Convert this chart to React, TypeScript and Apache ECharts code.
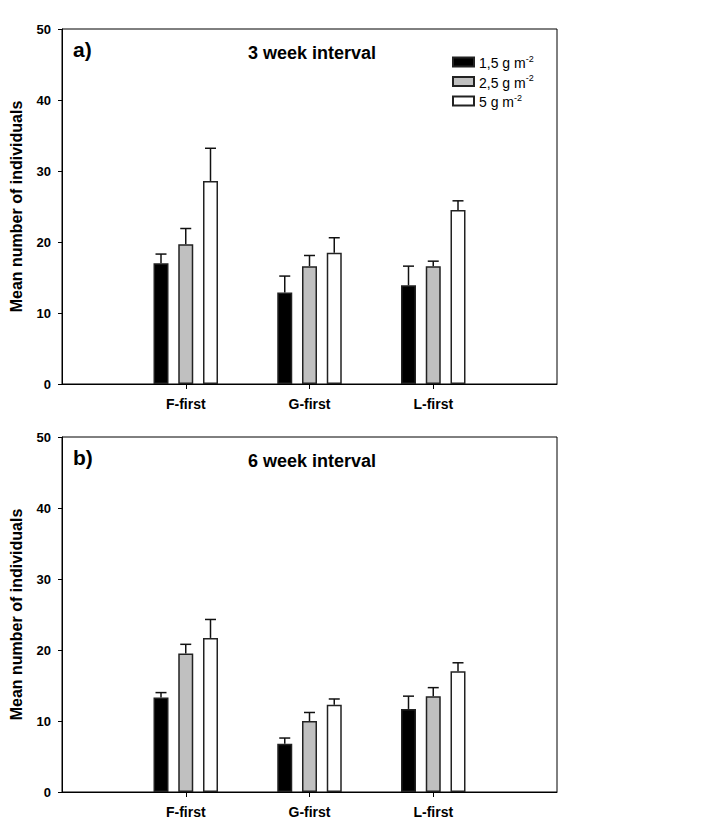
import React, { useEffect, useRef } from "react";
import * as echarts from "echarts";

const categories = ["", "F-first", "G-first", "L-first", ""];
const seriesNames = ["1,5 g m-2", "2,5 g m-2", "5 g m-2"];
const seriesColors = ["#000000", "#c0c0c0", "#ffffff"];

// Panel a) 3 week interval
const aMeans1 = [17.0, 12.9, 13.9];
const aMeans2 = [19.7, 16.6, 16.6];
const aMeans3 = [28.6, 18.5, 24.5];
const aErr1 = [1.3, 2.3, 2.7];
const aErr2 = [2.2, 1.5, 0.7];
const aErr3 = [4.6, 2.1, 1.3];

// Panel b) 6 week interval
const bMeans1 = [13.3, 6.8, 11.7];
const bMeans2 = [19.5, 10.0, 13.5];
const bMeans3 = [21.7, 12.3, 17.0];
const bErr1 = [0.7, 0.8, 1.8];
const bErr2 = [1.3, 1.2, 1.2];
const bErr3 = [2.6, 0.8, 1.2];

const yTicks = [0, 10, 20, 30, 40, 50];
const panelLabels = ["a)", "b)"];
const panelTitles = ["3 week interval", "6 week interval"];
const yTitle = "Mean number of individuals";

const FONT = "Liberation Sans, Arial, sans-serif";
const BAR_W = 15;
const BAR_GAP = "65%";
const PITCH = BAR_W * 1.65;

export default function App() {
  const ref = useRef<HTMLDivElement>(null);
  useEffect(() => {
    if (!ref.current) return;
    const chart = echarts.init(ref.current, undefined, { renderer: "svg" });

    const panels = [
      { means: [aMeans1, aMeans2, aMeans3], errs: [aErr1, aErr2, aErr3] },
      { means: [bMeans1, bMeans2, bMeans3], errs: [bErr1, bErr2, bErr3] },
    ];
    const gridTops = [29, 437];
    const gridH = 355;

    const grids = gridTops.map((top) => ({
      left: 62,
      top,
      width: 495,
      height: gridH,
      containLabel: false,
      outerBoundsMode: "none",
      show: true,
      borderColor: "#000",
      borderWidth: 1,
      backgroundColor: "transparent",
    }));

    const xAxes = gridTops.map((_, gi) => ({
      type: "category" as const,
      gridIndex: gi,
      data: categories,
      boundaryGap: false,
      axisLine: { lineStyle: { color: "#000", width: 1 } },
      axisTick: {
        show: true,
        length: 5,
        interval: (idx: number) => idx >= 1 && idx <= 3,
        lineStyle: { color: "#000" },
      },
      axisLabel: {
        interval: 0,
        margin: 13,
        color: "#000",
        fontFamily: FONT,
        fontWeight: "bold",
        fontSize: 14,
      },
      splitLine: { show: false },
    }));

    const yAxes = gridTops.map((_, gi) => ({
      type: "value" as const,
      gridIndex: gi,
      min: yTicks[0],
      max: yTicks[yTicks.length - 1],
      interval: 10,
      axisLine: { show: true, lineStyle: { color: "#000", width: 1 } },
      axisTick: { show: true, length: 4, lineStyle: { color: "#000" } },
      axisLabel: {
        margin: 11,
        color: "#000",
        fontFamily: FONT,
        fontWeight: "bold",
        fontSize: 13,
      },
      splitLine: { show: false },
    }));

    const series: any[] = [];
    panels.forEach((p, gi) => {
      p.means.forEach((vals, si) => {
        series.push({
          type: "bar",
          name: seriesNames[si],
          xAxisIndex: gi,
          yAxisIndex: gi,
          barWidth: BAR_W,
          barGap: BAR_GAP,
          data: vals.map((v, i) => [i + 1, v]),
          itemStyle: {
            color: seriesColors[si],
            borderColor: "#222",
            borderWidth: 1.5,
          },
          z: 2,
        });
      });
      p.means.forEach((vals, si) => {
        const errs = p.errs[si];
        const offset = (si - 1) * PITCH;
        series.push({
          type: "custom",
          name: `err-${gi}-${si}`,
          xAxisIndex: gi,
          yAxisIndex: gi,
          z: 3,
          data: vals.map((v, i) => [i + 1, v, errs[i]]),
          renderItem: (params: any, api: any) => {
            const x = api.value(0);
            const v = api.value(1);
            const e = api.value(2);
            const base = api.coord([x, v]);
            const top = api.coord([x, v + e]);
            const cx = base[0] + offset;
            const style = { stroke: "#111", lineWidth: 1.5 };
            return {
              type: "group",
              children: [
                { type: "line", shape: { x1: cx, y1: base[1], x2: cx, y2: top[1] }, style },
                { type: "line", shape: { x1: cx - 5.5, y1: top[1], x2: cx + 5.5, y2: top[1] }, style },
              ],
            };
          },
        });
      });
    });

    const graphics: any[] = [];
    gridTops.forEach((top, gi) => {
      graphics.push({
        type: "text",
        left: 73,
        top: top + 10,
        style: {
          text: panelLabels[gi],
          fill: "#000",
          font: `bold 21px ${FONT}`,
        },
      });
      graphics.push({
        type: "text",
        x: 312,
        y: top + 24,
        style: {
          text: panelTitles[gi],
          fill: "#000",
          font: `bold 18px ${FONT}`,
          textAlign: "center",
          textVerticalAlign: "middle",
        },
      });
      graphics.push({
        type: "text",
        x: 16,
        y: top + gridH / 2,
        rotation: Math.PI / 2,
        style: {
          text: yTitle,
          fill: "#000",
          font: `bold 16px ${FONT}`,
          textAlign: "center",
          textVerticalAlign: "middle",
        },
      });
    });

    chart.setOption({
      animation: false,
      backgroundColor: "#fff",
      grid: grids,
      xAxis: xAxes,
      yAxis: yAxes,
      legend: {
        data: seriesNames,
        orient: "vertical",
        left: 452,
        top: 54,
        padding: 0,
        itemWidth: 21,
        itemHeight: 9,
        itemGap: 3.5,
        icon: "rect",
        formatter: (name: string) => {
          const base = name.slice(0, name.length - 2);
          const sup = name.slice(name.length - 2);
          return `{n|${base}}{s|${sup}}`;
        },
        textStyle: {
          color: "#000",
          fontFamily: FONT,
          fontSize: 14,
          rich: {
            n: { fontFamily: FONT, fontSize: 14, color: "#000", lineHeight: 16, verticalAlign: "bottom" },
            s: { fontFamily: FONT, fontSize: 9, color: "#000", lineHeight: 10, verticalAlign: "top" },
          },
        },
      },
      series,
      graphic: graphics,
    });
    return () => chart.dispose();
  }, []);
  return <div ref={ref} style={{ width: 710, height: 835, marginLeft: -8, marginTop: -8 }} />;
}
